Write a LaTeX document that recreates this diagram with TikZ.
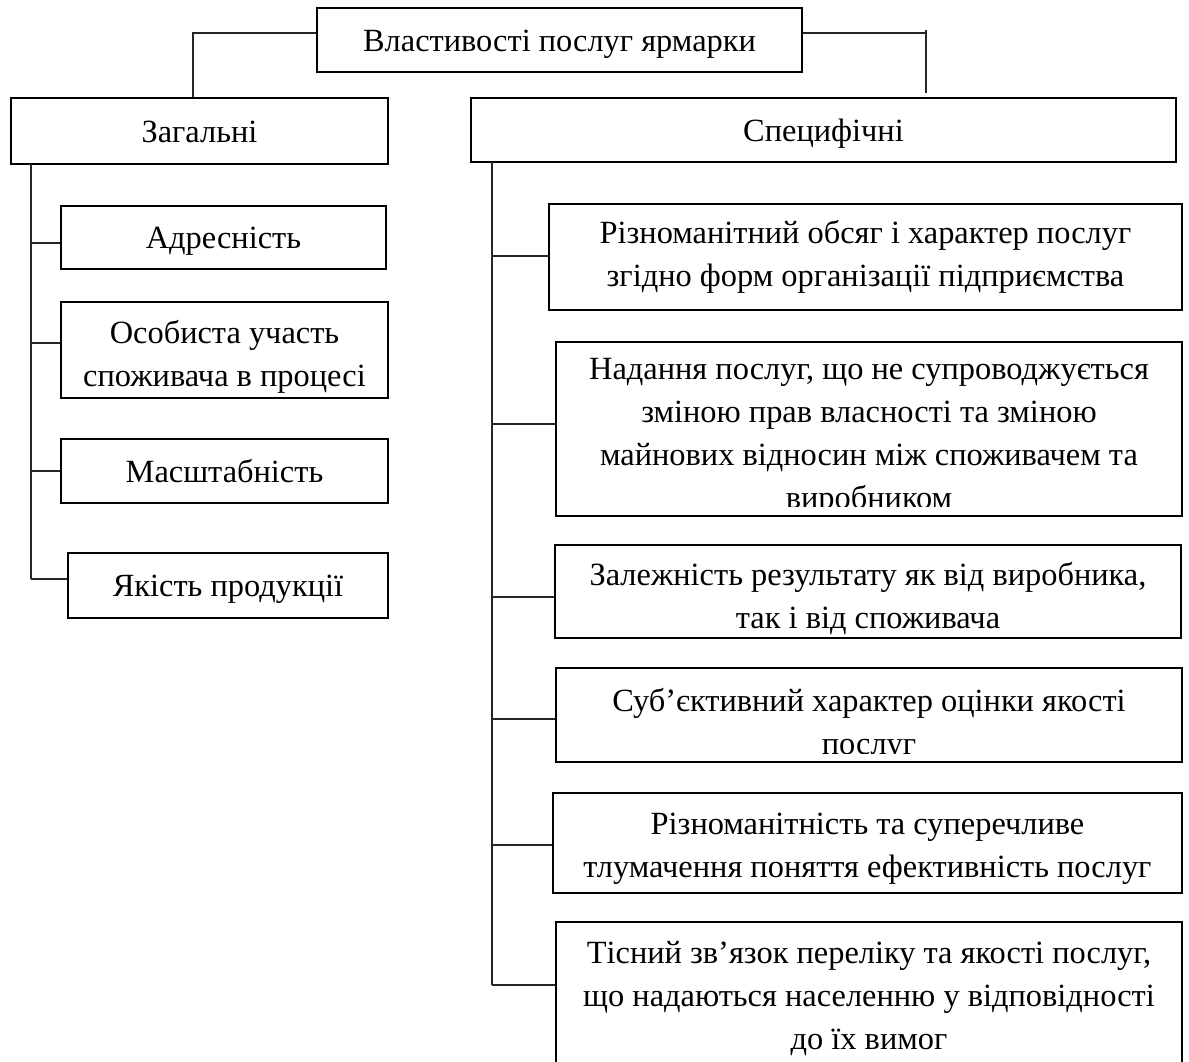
\documentclass[tikz,border=0pt]{standalone}
\usepackage{fontspec}
\setmainfont{Liberation Serif}
\begin{document}
\begin{tikzpicture}[x=0.5pt,y=-0.5pt,
  box/.style={draw=black, line width=1.1pt, inner sep=0pt, align=center, fill=white},
  one/.style={text height=13pt, text depth=2pt},
  conn/.style={draw=black!85, line width=0.6pt},
  txt/.style={inner sep=0pt, align=center},
  font=\fontsize{16.2}{21.5}\selectfont]
\fill[white] (0,0) rectangle (1189,1061);
\useasboundingbox (0,0) rectangle (1189,1061);

% top
\node[box, one, minimum width=242.5pt, minimum height=32pt] (top) at (559.5,40) {Властивості послуг ярмарки};

% left column
\node[box, one, minimum width=188.5pt, minimum height=33pt] (zag) at (199.5,131) {Загальні};
\node[box, one, minimum width=162.5pt, minimum height=31.5pt] (adr) at (223.5,237.5) {Адресність};
\node[box, minimum width=163.5pt, minimum height=48pt] (osob) at (224.5,350) {};
\node[box, one, minimum width=163.5pt, minimum height=32pt] (masht) at (224.5,471) {Масштабність};
\node[box, one, minimum width=160pt, minimum height=32.5pt] (yak) at (228,585.5) {Якість продукції};

% right column
\node[box, one, minimum width=352.5pt, minimum height=32pt] (spec) at (823.5,130) {Специфічні};
\node[box, minimum width=316.5pt, minimum height=53pt] (b1) at (865.5,257) {};
\node[box, minimum width=313pt, minimum height=87pt] (b2) at (869,429) {};
\node[box, minimum width=313pt, minimum height=46.5pt] (b3) at (868,591.5) {};
\node[box, minimum width=313pt, minimum height=47pt] (b4) at (869,715) {};
\node[box, minimum width=314.5pt, minimum height=50pt] (b5) at (867.5,843) {};
\node[box, minimum width=313pt, minimum height=76.5pt] (b6) at (869,998.5) {};

% multi-line texts
\node[txt] (t0) at ([yshift=-3.5pt]osob.center) {Особиста участь\\споживача в процесі};
\node[txt] (t1) at (b1.center) {Різноманітний обсяг і характер послуг\\згідно форм організації підприємства};
\node[txt] (t3) at ([yshift=-3.5pt]b3.center) {Залежність результату як від виробника,\\так і від споживача};
\node[txt] (t5) at ([yshift=-3pt]b5.center) {Різноманітність та суперечливе\\тлумачення поняття ефективність послуг};
\node[txt] (t6) at (b6.center) {Тісний зв’язок переліку та якості послуг,\\що надаються населенню у відповідності\\до їх вимог};

% clipped texts
\begin{scope}
  \clip (b2.north west) rectangle ([yshift=5.5pt]b2.south east);
  \node[txt] (t2) at ([yshift=-3.75pt]b2.center) {Надання послуг, що не супроводжується\\зміною прав власності та зміною\\майнових відносин між споживачем та\\виробником};
\end{scope}
\begin{scope}
  \clip (b4.north west) rectangle ([yshift=5pt]b4.south east);
  \node[txt] (t4) at ([yshift=-4.75pt]b4.center) {Суб’єктивний характер оцінки якості\\послуг};
\end{scope}

% top connectors
\coordinate (tl) at (193,33);
\draw[conn] (top.west |- tl) -- (tl) -- (tl |- zag.north);
\coordinate (tr) at (926,33);
\coordinate (trt) at (926,30);
\coordinate (trb) at (926,93);
\draw[conn] (top.east |- tr) -- (tr);
\draw[conn] (trt) -- (trb);

% left trunk
\coordinate (l0) at (31,164);
\coordinate (l1) at (31,243);
\coordinate (l2) at (31,343);
\coordinate (l3) at (31,471);
\coordinate (l4) at (31,579);
\draw[conn] (l0) -- (l4);
\draw[conn] (l1) -- (l1 -| adr.west);
\draw[conn] (l2) -- (l2 -| osob.west);
\draw[conn] (l3) -- (l3 -| masht.west);
\draw[conn] (l4) -- (l4 -| yak.west);

% right trunk
\coordinate (r0) at (492,162);
\coordinate (r1) at (492,256);
\coordinate (r2) at (492,424);
\coordinate (r3) at (492,597);
\coordinate (r4) at (492,719);
\coordinate (r5) at (492,845);
\coordinate (r6) at (492,985);
\draw[conn] (r0) -- (r6);
\draw[conn] (r1) -- (r1 -| b1.west);
\draw[conn] (r2) -- (r2 -| b2.west);
\draw[conn] (r3) -- (r3 -| b3.west);
\draw[conn] (r4) -- (r4 -| b4.west);
\draw[conn] (r5) -- (r5 -| b5.west);
\draw[conn] (r6) -- (r6 -| b6.west);
\end{tikzpicture}
\end{document}
